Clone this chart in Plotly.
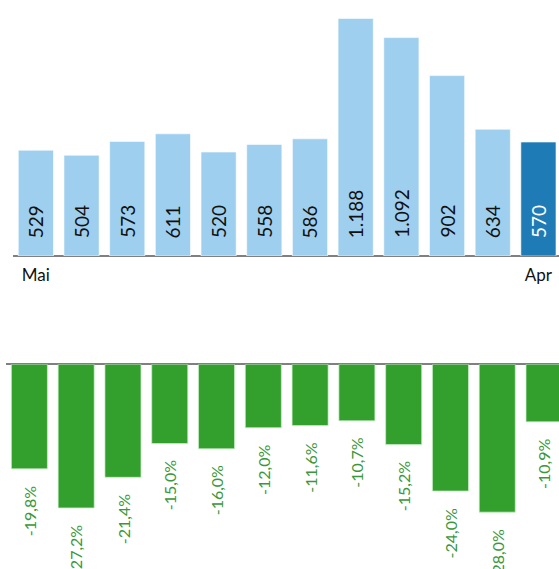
import plotly.graph_objects as go

months = ["Mai", "Jun", "Jul", "Aug", "Sep", "Okt", "Nov", "Dez", "Jan", "Feb", "Mär", "Apr"]
values = [529, 504, 573, 611, 520, 558, 586, 1188, 1092, 902, 634, 570]
value_labels = ["529", "504", "573", "611", "520", "558", "586", "1.188", "1.092", "902", "634", "570"]
changes = [-19.8, -27.2, -21.4, -15.0, -16.0, -12.0, -11.6, -10.7, -15.2, -24.0, -28.0, -10.9]
change_labels = ["-19,8%", "-27,2%", "-21,4%", "-15,0%", "-16,0%", "-12,0%", "-11,6%", "-10,7%",
                 "-15,2%", "-24,0%", "-28,0%", "-10,9%"]
tick_labels = ["Mai", "Apr"]

FONT = "Lato"
W, H = 559, 569

light_blue = "#9ecfee"
dark_blue = "#1f7bb6"
green = "#339f2c"
label_green = "#3a983a"

bar_colors = [light_blue] * (len(values) - 1) + [dark_blue]
text_colors = ["#111111"] * (len(values) - 1) + ["#ffffff"]

xs = list(range(len(months)))

fig = go.Figure()
fig.add_trace(go.Bar(x=xs, y=values, marker=dict(color=bar_colors, line=dict(color="rgba(255,255,255,0.6)", width=1)),
                     width=0.77, xaxis="x", yaxis="y", hoverinfo="skip"))
fig.add_trace(go.Bar(x=xs, y=changes, marker=dict(color=green, line=dict(color="rgba(200,240,200,0.7)", width=1)),
                     width=0.77, xaxis="x2", yaxis="y2", hoverinfo="skip"))

annotations = []
for i, (lab, c) in enumerate(zip(value_labels, text_colors)):
    annotations.append(dict(x=i, y=0, xref="x", yref="y", text=lab, textangle=-90, showarrow=False,
                            xanchor="center", yanchor="bottom", yshift=16,
                            font=dict(family=FONT, size=19, color=c)))
for i, (v, lab) in enumerate(zip(changes, change_labels)):
    annotations.append(dict(x=i, y=v, xref="x2", yref="y2", text=lab, textangle=-90, showarrow=False,
                            xanchor="center", yanchor="top", yshift=-15,
                            font=dict(family=FONT, size=16, color=label_green)))

fig.update_layout(
    width=W, height=H,
    margin=dict(l=0, r=0, t=0, b=0),
    paper_bgcolor="white", plot_bgcolor="white",
    showlegend=False,
    font=dict(family=FONT, color="#111111"),
    xaxis=dict(domain=[13 / W, 1], range=[-0.5, 11.45], tickvals=[0, 11], ticktext=tick_labels,
               showgrid=False, zeroline=False, showline=False, ticks="", ticklabelstandoff=7,
               tickfont=dict(family=FONT, size=17, color="#111111"), anchor="y"),
    yaxis=dict(domain=[1 - 256 / H, 1], range=[0, 1280], showgrid=False, zeroline=True,
               zerolinecolor="#808080", zerolinewidth=2, showticklabels=False, showline=False),
    xaxis2=dict(domain=[6 / W, 1], range=[-0.5, 11.32], showgrid=False, zeroline=False,
                showticklabels=False, showline=False, ticks="", anchor="y2"),
    yaxis2=dict(domain=[0, 1 - 364.3 / H], range=[-38.77, 0], showgrid=False, zeroline=True,
                zerolinecolor="#808080", zerolinewidth=2, showticklabels=False, showline=False),
    annotations=annotations,
    bargap=0.23,
)

fig.write_html("out.html", config={"displayModeBar": False},
               post_script="document.body.style.margin='0';document.body.style.overflow='hidden';")
